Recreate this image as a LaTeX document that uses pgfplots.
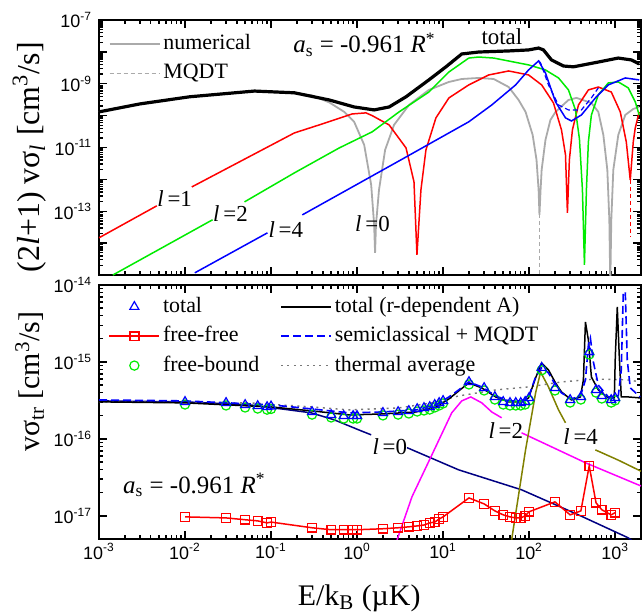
\documentclass[border=0pt]{standalone}
\usepackage{fontspec}
\setmainfont{Liberation Serif}
\newfontfamily\tickfont{Liberation Sans}
\usepackage{pgfplots}
\pgfplotsset{compat=1.18}
\definecolor{cgray}{RGB}{170,170,170}
\definecolor{cred}{RGB}{255,0,0}
\definecolor{cgreen}{RGB}{0,235,0}
\definecolor{cblue}{RGB}{0,0,255}
\definecolor{cnavy}{RGB}{0,0,130}
\definecolor{cmag}{RGB}{255,0,255}
\definecolor{colive}{RGB}{128,128,0}
\definecolor{cdot}{RGB}{120,120,120}
\tikzset{lab/.style={font=\fontsize{11.5}{13}\selectfont, inner sep=0pt, anchor=base west}}
\newcommand{\tl}[1]{10\textsuperscript{#1}}
\begin{document}
\begin{tikzpicture}
\useasboundingbox (0,0) rectangle (321bp,307bp);
% ---------------- top panel ----------------
\begin{axis}[xmode=log, ymode=log, scale only axis, width=271bp,
  xmin=1e-3, xmax=2e3,
  xtick={1e-3,1e-2,1e-1,1,10,100,1000},
  axis line style={line width=1bp},
  major tick length=4bp, minor tick length=2bp,
  tick style={line width=0.7bp, black},
  tick align=inside,
  ticklabel style={font=\tickfont\fontsize{9}{10}\selectfont},
  legend image code/.code={\draw[mark repeat=2,mark phase=2,#1] plot coordinates {(0bp,0bp) (12.5bp,0bp) (25bp,0bp)};},
  legend cell align=left,
  legend style={draw=none, fill=none, font=\fontsize{11}{13}\selectfont, row sep=1.2bp, inner sep=0pt,
     nodes={inner sep=1.5bp, text height=8bp, text depth=2.5bp}},
  at={(49.5bp,169.5bp)}, anchor=south west, height=127.5bp,
  ymin=1e-15, ymax=1e-7,
  ytick={1e-15,1e-14,1e-13,1e-12,1e-11,1e-10,1e-9,1e-8,1e-7},
  yticklabels={{},{},{\tl{-13}},{},{\tl{-11}},{},{\tl{-9}},{},{\tl{-7}}},
  xticklabels={{},{},{},{},{},{},{}},
  every axis y label/.style={at={(axis description cs:-0.128,0.462)}, rotate=90, anchor=center},
  ylabel={\fontsize{16}{18}\selectfont (2\textit{l}+1) vσ\textsubscript{\textit{l}} [cm\textsuperscript{3}/s]},
  legend style={at={(axis description cs:0.017,0.961)}, anchor=north west},
]
\addlegendimage{cgray, line width=0.9bp}\addlegendentry{numerical}
\addlegendimage{cgray, line width=0.6bp, dash pattern=on 2bp off 1.5bp}\addlegendentry{MQDT}
% l=0 numerical (gray)
\addplot[cgray, line width=0.9bp, forget plot] coordinates {
(1e-3,1.31e-10) (2.99e-3,2.33e-10) (1.13e-2,3.9e-10) (6.42e-2,5.9e-10) (0.187,5.2e-10) (0.3,4.3e-10) (0.475,2.6e-10)
(0.710,1.31e-10) (0.925,6.4e-11) (1.21,1.21e-11) (1.46,6.7e-13) (1.58,3.75e-14)
(1.62,4.97e-15) (1.66,3.75e-14) (1.80,4.7e-13) (2.12,8.4e-12) (2.69,5.1e-11)
(4.02,2.16e-10) (6.84,6.4e-10) (11.7,1.14e-9) (16.5,1.41e-9) (26.0,1.52e-9)
(38.8,1.41e-9) (57.9,7.9e-10) (75.5,3.1e-10) (91.0,1.31e-10) (110,2.48e-11)
(122,4.09e-12) (129,4.7e-13) (132,7.7e-14) (136,4.7e-13) (140,1.99e-12)
(155,1.73e-11) (177,7.3e-11) (203,1.31e-10) (287,3.1e-10) (355,3.6e-10)
(530,2.5e-10) (638,1.31e-10) (730,2.48e-11) (812,1.99e-12) (857,5.4e-14)
(879,5e-16) (903,5.4e-14) (953,1.99e-12) (1089,2.48e-11) (1313,1.05e-10)
(1626,1.62e-10) (1906,1.87e-10)};
\addplot[cgray, line width=0.9bp, dash pattern=on 2bp off 1.5bp, forget plot] coordinates {(132,8e-14) (132,5e-16)};
% l=1 (red)
\addplot[cred, line width=0.75bp, forget plot] coordinates {(1e-3,1.47e-14) (4.70e-3,1.48e-13)};
\addplot[cred, line width=0.75bp, forget plot] coordinates {
(1.20e-2,5.8e-13) (0.187,2.87e-11) (0.395,5.5e-11) (0.877,1.13e-10) (1.27,1.22e-10)
(1.50,1.0e-10) (2.36,5.1e-11) (3.71,9.7e-12) (4.59,8.4e-13) (4.97,4.3e-15)
(5.53,4.7e-13) (6.32,8.4e-12) (8.26,8.5e-11) (11.7,3.6e-10) (19.9,9.2e-10)
(34.0,1.89e-9) (57.9,2.52e-9) (98.6,1.89e-9) (140,9.2e-10) (192,2.5e-10)
(238,3.56e-11) (265,5.9e-12) (279,8.9e-14) (294,4.09e-12) (319,3.56e-11)
(375,2.16e-10) (489,6.4e-10) (638,7.9e-10) (903,5.5e-10) (1148,1.31e-10)
(1349,1.50e-11) (1500,9.6e-13) (1626,1.5e-11) (1715,4.1e-11) (1906,1.31e-10)};
\addplot[cred, line width=0.75bp, dash pattern=on 2bp off 1.5bp, forget plot] coordinates {(1500,9.6e-13) (1500,1.57e-14)};
% l=2 (green)
\addplot[cgreen, line width=0.75bp, forget plot] coordinates {(1.45e-3,1.0e-15) (2.09e-2,5.4e-14)};
\addplot[cgreen, line width=0.75bp, forget plot] coordinates {
(4.92e-2,1.97e-13) (0.187,1.60e-12) (0.621,9.7e-12) (1.50,3.1e-11) (3.08,1.31e-10)
(6.84,5.5e-10) (11.7,2.34e-9) (19.9,6.4e-9) (26.0,6.9e-9) (38.8,6.4e-9)
(98.6,3.9e-9) (155,2.71e-9) (220,1.52e-9) (287,6.4e-10) (346,1.51e-10)
(385,1.85e-11) (417,4.7e-13) (440,2.09e-15) (464,4.7e-13) (489,1.5e-11)
(530,1.05e-10) (638,4.5e-10) (834,1.06e-9) (1089,1.14e-9) (1422,7.4e-10)
(1715,2.7e-10) (1906,1.05e-10)};
% l=4 (blue)
\addplot[cblue, line width=0.75bp, forget plot] coordinates {(1.30e-2,1.17e-15) (9.08e-2,2.10e-14)};
\addplot[cblue, line width=0.75bp, forget plot] coordinates {
(0.231,7.7e-14) (3.08,3.8e-12) (19.9,6.4e-11) (36.8,2.16e-10) (69.8,9.2e-10)
(98.6,2.71e-9) (129,5.2e-9) (155,2.18e-9) (203,2.7e-10) (265,8.5e-11)
(311,6.8e-11) (406,1.05e-10) (590,3.6e-10) (834,9.2e-10) (1313,1.52e-9) (1906,1.32e-9)};
\addplot[cblue, line width=0.6bp, dash pattern=on 2.5bp off 1.5bp, forget plot] coordinates {
(129,5.2e-9) (136,4.5e-9) (168,9.2e-10) (220,2.16e-10) (287,1.51e-10)
(406,1.51e-10) (530,3.6e-10) (638,7.4e-10)};
% total (black)
\addplot[black, line width=1.6bp, forget plot] coordinates {
(1e-3,1.31e-10) (2.99e-3,2.33e-10) (1.13e-2,3.9e-10) (6.42e-2,5.9e-10) (0.187,5.2e-10)
(0.475,3.1e-10) (0.925,1.87e-10) (1.58,1.51e-10) (2.36,1.87e-10) (3.71,3.9e-10)
(6.84,1.32e-9) (10.8,3.4e-9) (16.5,8.6e-9) (26.0,9.9e-9) (57.9,1.07e-8)
(98.6,1.15e-8) (129,1.32e-8) (147,1.15e-8) (182,5.6e-9) (251,3.6e-9)
(328,3.4e-9) (638,4.8e-9) (1089,6.4e-9) (1541,5.6e-9) (1906,4.2e-9)};
\node[font=\fontsize{12.5}{14}\selectfont, inner sep=0pt, anchor=base west] at (rel axis cs:0.358,0.871)
  {\textit{a}\textsubscript{s} = -0.961 \textit{R}\textsuperscript{*}};
\node[font=\fontsize{11.5}{13}\selectfont, inner sep=0pt, anchor=base west] at (rel axis cs:0.705,0.902) {total};
\node[lab] at (rel axis cs:0.107,0.267) {\textit{l}\,=1};
\node[lab] at (rel axis cs:0.210,0.208) {\textit{l}\,=2};
\node[lab] at (rel axis cs:0.312,0.149) {\textit{l}\,=4};
\node[lab] at (rel axis cs:0.472,0.169) {\textit{l}\,=0};
\end{axis}
% ---------------- bottom panel ----------------
\begin{axis}[xmode=log, ymode=log, scale only axis, width=271bp,
  xmin=1e-3, xmax=2e3,
  xtick={1e-3,1e-2,1e-1,1,10,100,1000},
  axis line style={line width=1bp},
  major tick length=4bp, minor tick length=2bp,
  tick style={line width=0.7bp, black},
  tick align=inside,
  ticklabel style={font=\tickfont\fontsize{9}{10}\selectfont},
  xticklabel style={yshift=1.5bp},
  legend image code/.code={\draw[mark repeat=2,mark phase=2,#1] plot coordinates {(0bp,0bp) (12.5bp,0bp) (25bp,0bp)};},
  legend cell align=left,
  legend style={draw=none, fill=none, font=\fontsize{11}{13}\selectfont, row sep=1.2bp, inner sep=0pt,
     nodes={inner sep=1.5bp, text height=8bp, text depth=2.5bp}},
  at={(49.5bp,37.5bp)}, anchor=south west, height=127bp,
  ymin=5e-18, ymax=1e-14,
  ytick={1e-17,1e-16,1e-15,1e-14},
  yticklabels={{\tl{-17}},{\tl{-16}},{\tl{-15}},{\tl{-14}}},
  xticklabels={{\tl{-3}},{\tl{-2}},{\tl{-1}},{\tl{0}},{\tl{1}},{\tl{2}},{\tl{3}}},
  every axis y label/.style={at={(axis description cs:-0.128,0.62)}, rotate=90, anchor=center},
  ylabel={\fontsize{15}{17}\selectfont vσ\textsubscript{tr} [cm\textsuperscript{3}/s]},
  every axis x label/.style={at={(axis description cs:0.48,-0.232)}, anchor=center},
  xlabel={\fontsize{15}{17}\selectfont E/k\textsubscript{B} (µK)},
  legend columns=2,
  legend style={at={(axis description cs:0.017,0.969)}, anchor=north west,
    /tikz/column 2/.style={column sep=9bp}},
]
\addlegendimage{only marks, mark=triangle, mark size=2.6bp, cblue, line width=0.6bp}\addlegendentry{total}
\addlegendimage{black, line width=0.75bp}\addlegendentry{total (r-dependent A)}
\addlegendimage{cred, line width=0.75bp, mark=square, mark size=2.2bp, mark options={fill=white}}\addlegendentry{free-free}
\addlegendimage{cblue, line width=0.8bp, dash pattern=on 4bp off 2bp}\addlegendentry{semiclassical + MQDT}
\addlegendimage{only marks, mark=o, mark size=2.3bp, cgreen, line width=0.6bp}\addlegendentry{free-bound}
\addlegendimage{cdot, line width=0.7bp, dash pattern=on 1bp off 2.2bp}\addlegendentry{thermal average}
% l=0 (navy)
\addplot[cnavy, line width=0.75bp, forget plot] coordinates {
(1e-3,3.12e-16) (0.01,3.03e-16) (5.62e-2,2.77e-16) (0.163,2.38e-16) (0.294,2.18e-16)
(0.543,1.77e-16) (1.12,1.27e-16) (1.46,1.13e-16)};
\addplot[cnavy, line width=0.75bp, forget plot] coordinates {
(3.81,7.7e-17) (15.2,3.96e-17) (81.8,2.18e-17) (375,1.03e-17) (1422,5.18e-18) (2000,3.9e-18)};
% l=2 (magenta)
\addplot[cmag, line width=0.75bp, forget plot] coordinates {
(2.92,4.88e-18) (4.35,1.77e-17) (7.41,6.2e-17) (12.6,2.18e-16) (16.5,3.12e-16)
(21.0,3.51e-16) (28.2,2.94e-16) (36.8,2.24e-16) (48.0,1.88e-16)};
\addplot[cmag, line width=0.75bp, forget plot] coordinates {
(81.8,1.20e-16) (182,7.9e-17) (452,4.9e-17) (1857,2.53e-17) (2000,2.45e-17)};
% l=4 (olive)
\addplot[colive, line width=0.75bp, forget plot] coordinates {
(62.7,4.9e-18) (91.0,7.2e-17) (119,3.96e-16) (136,7.4e-16) (168,4.74e-16)
(220,2.38e-16) (265,1.62e-16)};
\addplot[colive, line width=0.75bp, forget plot] coordinates {
(590,7.2e-17) (1089,5.3e-17) (1857,3.96e-17) (2000,3.8e-17)};
% thermal average
\addplot[cdot, line width=0.7bp, dash pattern=on 1bp off 2.2bp, forget plot] coordinates {
(1e-3,3.03e-16) (5.62e-2,2.94e-16) (0.302,2.60e-16) (0.810,2.38e-16) (3.08,2.53e-16)
(7.41,2.94e-16) (15.2,3.62e-16) (40.9,4.33e-16) (98.6,4.74e-16) (238,5.50e-16)
(590,6.0e-16) (1422,5.84e-16) (1958,5.50e-16)};
% total (r-dependent A)
\addplot[black, line width=0.75bp, forget plot] coordinates {
(1e-3,3.03e-16) (0.01,2.94e-16) (0.101,2.60e-16) (0.302,2.31e-16) (0.810,2.05e-16)
(1.95,2.11e-16) (4.84,2.24e-16) (8.26,2.60e-16) (11.7,3.31e-16) (15.2,4.20e-16)
(19.9,5.34e-16) (28.2,4.60e-16) (40.9,3.51e-16) (57.9,3.03e-16) (81.8,3.03e-16)
(98.6,3.41e-16) (119,6.20e-16) (140,9.7e-16) (168,7.87e-16) (203,5.34e-16)
(238,4.08e-16) (311,3.21e-16) (395,3.51e-16) (428,5.84e-16) (452,3.31e-15)
(489,1.93e-15) (530,6.38e-16) (638,4.33e-16) (834,3.41e-16) (979,3.41e-16)
(1005,1.16e-15) (1060,5.18e-15) (1119,1.16e-15) (1180,3.51e-16) (1422,3.51e-16)
(1958,3.41e-16)};
% semiclassical + MQDT
\addplot[cblue, line width=0.8bp, dash pattern=on 4bp off 2bp, forget plot] coordinates {
(1e-3,3.21e-16) (0.01,3.12e-16) (0.101,2.77e-16) (0.302,2.45e-16) (0.810,2.18e-16)
(1.95,2.24e-16) (4.84,2.38e-16) (8.26,2.77e-16) (11.7,3.51e-16) (15.2,4.33e-16)
(19.9,5.50e-16) (28.2,4.74e-16) (40.9,3.62e-16) (57.9,3.12e-16) (81.8,3.12e-16)
(98.6,3.51e-16) (119,6.38e-16) (140,8.4e-16) (168,7.2e-16) (203,5.0e-16)
(238,3.96e-16) (311,3.31e-16) (395,3.62e-16) (452,5.84e-16) (489,1.66e-15)
(516,2.05e-15) (559,1.0e-15) (638,5.0e-16) (834,3.51e-16) (1089,3.62e-16)
(1180,7.9e-16) (1245,8.1e-15) (1313,8.1e-15) (1385,1.06e-15) (1500,4.60e-16)
(1958,3.51e-16)};
% free-free
\addplot[cred, line width=0.75bp, mark=square, mark size=2.2bp, mark options={fill=white}, forget plot] coordinates {
(0.01,9.7e-18) (0.03,9.4e-18) (0.05,8.9e-18) (0.07,8.6e-18) (0.09,8.1e-18) (0.1,8.3e-18)
(0.3,7.0e-18) (0.5,6.6e-18) (0.7,6.6e-18) (0.9,6.6e-18) (1,6.6e-18)
(2,6.8e-18) (3,7.0e-18) (4,7.2e-18) (5,7.4e-18) (6,7.6e-18) (7,8.1e-18) (8,8.3e-18)
(9,9.1e-18) (10,9.7e-18) (20,1.71e-17) (30,1.43e-17) (40,1.16e-17) (50,1.03e-17)
(60,9.7e-18) (70,9.4e-18) (80,9.4e-18) (90,1.0e-17) (100,1.13e-17) (200,1.52e-17)
(300,1.03e-17) (400,1.16e-17) (500,4.46e-17) (600,1.48e-17) (700,1.2e-17)
(900,1.03e-17) (1000,1.1e-17)};
% free-bound
\addplot[only marks, mark=o, mark size=2.3bp, cgreen, line width=0.6bp, forget plot] coordinates {
(0.01,2.80e-16) (0.03,2.72e-16) (0.05,2.56e-16) (0.07,2.48e-16) (0.09,2.40e-16) (0.1,2.45e-16)
(0.3,2.07e-16) (0.5,1.90e-16) (0.7,1.84e-16) (0.9,1.84e-16) (1,1.84e-16)
(2,2.02e-16) (3,2.07e-16) (4,2.14e-16) (5,2.27e-16) (6,2.34e-16) (7,2.41e-16) (8,2.56e-16)
(9,2.72e-16) (10,2.89e-16) (20,5.1e-16) (30,4.26e-16) (40,3.25e-16) (50,2.80e-16)
(60,2.72e-16) (70,2.72e-16) (80,2.72e-16) (90,2.80e-16) (100,3.16e-16) (140,7.8e-16)
(200,4.26e-16) (300,2.97e-16) (400,3.25e-16) (500,1.25e-15) (600,4.0e-16)
(700,3.35e-16) (900,2.97e-16) (1000,3.16e-16)};
% total (triangles)
\addplot[only marks, mark=triangle, mark size=2.6bp, cblue, line width=0.6bp, forget plot] coordinates {
(0.01,3.03e-16) (0.03,2.94e-16) (0.05,2.77e-16) (0.07,2.68e-16) (0.09,2.60e-16) (0.1,2.65e-16)
(0.3,2.24e-16) (0.5,2.05e-16) (0.7,1.99e-16) (0.9,1.99e-16) (1,1.99e-16)
(2,2.18e-16) (3,2.24e-16) (4,2.31e-16) (5,2.45e-16) (6,2.53e-16) (7,2.60e-16) (8,2.77e-16)
(9,2.94e-16) (10,3.12e-16) (20,5.50e-16) (30,4.60e-16) (40,3.51e-16) (50,3.03e-16)
(60,2.94e-16) (70,2.94e-16) (80,2.94e-16) (90,3.03e-16) (100,3.41e-16) (140,8.4e-16)
(200,4.60e-16) (300,3.21e-16) (400,3.51e-16) (500,1.35e-15) (600,4.33e-16)
(700,3.62e-16) (900,3.21e-16) (1000,3.41e-16)};
\node[font=\fontsize{12.5}{14}\selectfont, inner sep=0pt, anchor=base west] at (rel axis cs:0.044,0.181)
  {\textit{a}\textsubscript{s} = -0.961 \textit{R}\textsuperscript{*}};
\node[lab] at (rel axis cs:0.504,0.331) {\textit{l}\,=0};
\node[lab] at (rel axis cs:0.718,0.394) {\textit{l}\,=2};
\node[lab] at (rel axis cs:0.856,0.374) {\textit{l}\,=4};
\end{axis}
\end{tikzpicture}
\end{document}
